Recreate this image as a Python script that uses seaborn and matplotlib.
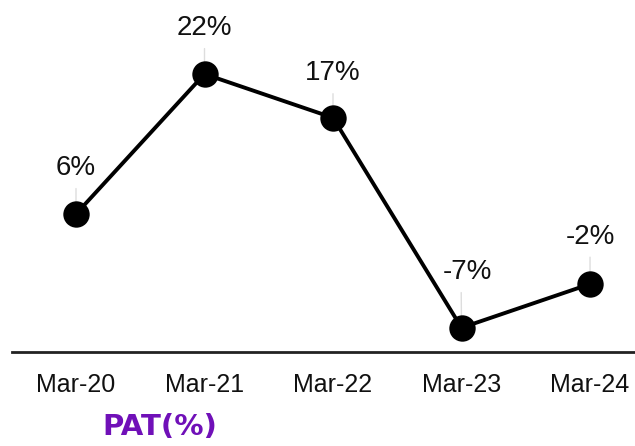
import matplotlib
matplotlib.use("Agg")
import matplotlib.pyplot as plt
import pandas as pd
import seaborn as sns

periods = ["Mar-20", "Mar-21", "Mar-22", "Mar-23", "Mar-24"]
pat_pct = [6, 22, 17, -7, -2]
labels = ["6%", "22%", "17%", "-7%", "-2%"]

sns.set_style("white")
plt.rcParams["font.family"] = ["Liberation Sans", "DejaVu Sans"]

df = pd.DataFrame({"period": periods, "pat": pat_pct})

fig = plt.figure(figsize=(6.35, 4.46), dpi=100)
ax = fig.add_axes([12 / 635, 94 / 446, 623 / 635, 352 / 446])

sns.lineplot(data=df, x="period", y="pat", ax=ax, color="black", lw=2.8,
             marker="o", markersize=19, markeredgewidth=0, sort=False, zorder=3)

# label offsets in points (text baseline above the point)
dx = [0, 0, 0, 4, 0]
dy = [28, 28, 27, 35, 29]
rel = [0.5, 0.5, 0.5, 0.38, 0.5]
for i, (v, lab) in enumerate(zip(pat_pct, labels)):
    ax.annotate(lab, (i, v), xytext=(dx[i], dy[i]), textcoords="offset points",
                ha="center", va="baseline", fontsize=20, color="#111111",
                zorder=1,
                arrowprops=dict(arrowstyle="-", color="#dddddd", lw=1,
                                shrinkA=3, shrinkB=0, relpos=(rel[i], 0)))

ax.set_xlim(-0.498, 4.35)
ax.set_ylim(-9.77, 30.46)
ax.set_xlabel("")
ax.set_ylabel("")
ax.set_yticks([])
for s in ["top", "left", "right"]:
    ax.spines[s].set_visible(False)
ax.spines["bottom"].set_color("#222222")
ax.spines["bottom"].set_linewidth(2)
ax.tick_params(axis="x", length=0, pad=15, labelsize=18, labelcolor="#111111")

fig.text(160 / 635, 1 - 427 / 446, "PAT(%)", ha="center", va="center",
         fontsize=21, fontweight="bold", color="#7010b8", family="DejaVu Sans")

fig.savefig("out.png", dpi=100)
